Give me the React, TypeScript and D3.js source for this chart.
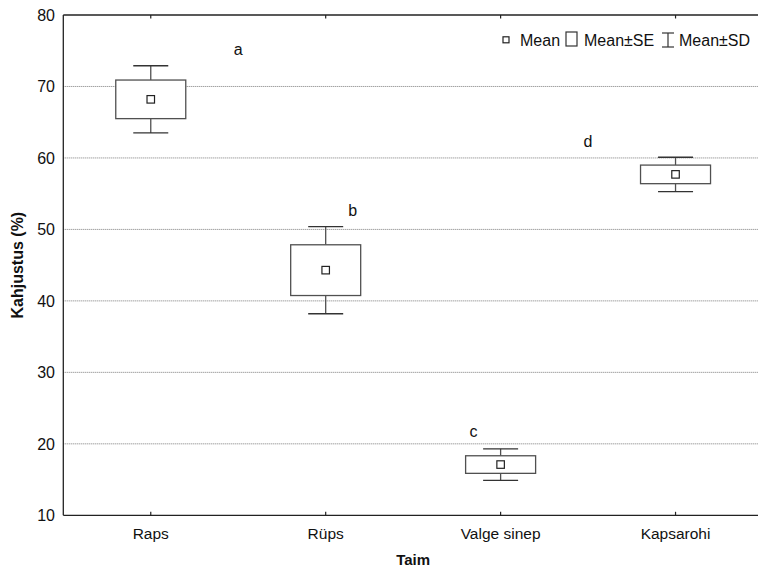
import React from "react";
import * as d3 from "d3";

// Plant species and their damage statistics (%)
const categories = ["Raps", "Rüps", "Valge sinep", "Kapsarohi"];
const means = [68.2, 44.3, 17.1, 57.7];
const stdErrors = [2.7, 3.55, 1.23, 1.3];
const stdDevs = [4.7, 6.1, 2.2, 2.4];

// Significance group letters: label, horizontal offset in band widths, value position
const groupLetters = ["a", "b", "c", "d"];
const letterOffsets = [0.5, 0.155, -0.155, -0.5];
const letterValues = [74.4, 51.9, 21.0, 61.5];

const yTicks = [10, 20, 30, 40, 50, 60, 70, 80];
const gridValues = [20, 30, 40, 50, 60, 70];

const W = 758;
const H = 569;
const margin = { left: 63.3, top: 15, bottom: 53.7 };
const plotRight = 763; // plot extends slightly past the visible edge
const font = "Arial, 'Liberation Sans', Helvetica, sans-serif";

export default function App() {
  const x = d3
    .scaleBand<string>()
    .domain(categories)
    .range([margin.left, plotRight])
    .paddingInner(0)
    .paddingOuter(0);
  const y = d3
    .scaleLinear()
    .domain([10, 80])
    .range([H - margin.bottom, margin.top]);

  const bw = x.bandwidth();
  const cx = (c: string) => (x(c) as number) + bw / 2;
  const boxW = 70;
  const capW = 35;
  const stroke = "#505050";

  return (
    <svg
      width={W}
      height={H}
      style={{ position: "absolute", left: 0, top: 0, background: "#fff" }}
      fontFamily={font}
    >
      {/* grid */}
      {gridValues.map((v) => (
        <line
          key={v}
          x1={margin.left}
          x2={W}
          y1={y(v)}
          y2={y(v)}
          stroke="#7a7a7a"
          strokeWidth={1}
          strokeDasharray="1,1"
        />
      ))}

      {/* axes frame */}
      <line x1={margin.left} x2={margin.left} y1={y(80)} y2={y(10)} stroke="#222" strokeWidth={1.3} />
      <line x1={margin.left} x2={W} y1={y(10)} y2={y(10)} stroke="#222" strokeWidth={1.3} />
      <line x1={margin.left} x2={W} y1={y(80)} y2={y(80)} stroke="#222" strokeWidth={1.3} />

      {/* y tick labels */}
      {yTicks.map((v) => (
        <text key={v} x={55} y={y(v)} dy="0.36em" textAnchor="end" fontSize={16} fill="#111">
          {v}
        </text>
      ))}

      {/* category ticks and labels */}
      {categories.map((c) => (
        <g key={c}>
          <line x1={cx(c)} x2={cx(c)} y1={y(10)} y2={y(10) - 3.5} stroke="#222" strokeWidth={1.2} />
          <line x1={cx(c)} x2={cx(c)} y1={y(80)} y2={y(80) + 3.5} stroke="#222" strokeWidth={1.2} />
          <text x={cx(c)} y={539} textAnchor="middle" fontSize={15.5} fill="#111">
            {c}
          </text>
        </g>
      ))}

      {/* boxes */}
      {categories.map((c, i) => {
        const m = means[i];
        const se = stdErrors[i];
        const sd = stdDevs[i];
        const xc = cx(c);
        return (
          <g key={c} fill="none" stroke={stroke} strokeWidth={1.3}>
            <line x1={xc} x2={xc} y1={y(m + sd)} y2={y(m + se)} />
            <line x1={xc} x2={xc} y1={y(m - se)} y2={y(m - sd)} />
            <line x1={xc - capW / 2} x2={xc + capW / 2} y1={y(m + sd)} y2={y(m + sd)} stroke="#333" />
            <line x1={xc - capW / 2} x2={xc + capW / 2} y1={y(m - sd)} y2={y(m - sd)} stroke="#333" />
            <rect
              x={xc - boxW / 2}
              y={y(m + se)}
              width={boxW}
              height={y(m - se) - y(m + se)}
              fill="#fff"
            />
            <rect x={xc - 3.75} y={y(m) - 3.75} width={7.5} height={7.5} fill="#fff" stroke="#222" strokeWidth={1.2} />
          </g>
        );
      })}

      {/* group letters */}
      {categories.map((c, i) => (
        <text
          key={c}
          x={cx(c) + letterOffsets[i] * bw}
          y={y(letterValues[i])}
          textAnchor="middle"
          fontSize={16}
          fill="#111"
        >
          {groupLetters[i]}
        </text>
      ))}

      {/* legend */}
      <g fontSize={16} fill="#111">
        <rect x={503} y={36.8} width={6} height={6} fill="#fff" stroke="#222" strokeWidth={1.2} />
        <text x={520} y={46}>Mean</text>
        <rect x={566} y={32} width={11} height={14} fill="#fff" stroke="#333" strokeWidth={1.2} />
        <text x={584} y={46}>Mean±SE</text>
        <g stroke="#333" strokeWidth={1.2}>
          <line x1={662} x2={674} y1={33} y2={33} />
          <line x1={668} x2={668} y1={33} y2={47} />
          <line x1={662} x2={674} y1={47} y2={47} />
        </g>
        <text x={679} y={46}>Mean±SD</text>
      </g>

      {/* axis titles */}
      <text
        transform={`translate(23, ${(y(80) + y(10)) / 2}) rotate(-90)`}
        textAnchor="middle"
        fontSize={16}
        fontWeight="bold"
        fill="#111"
      >
        Kahjustus (%)
      </text>
      <text x={(margin.left + plotRight) / 2} y={565} textAnchor="middle" fontSize={15} fontWeight="bold" fill="#111">
        Taim
      </text>
    </svg>
  );
}
